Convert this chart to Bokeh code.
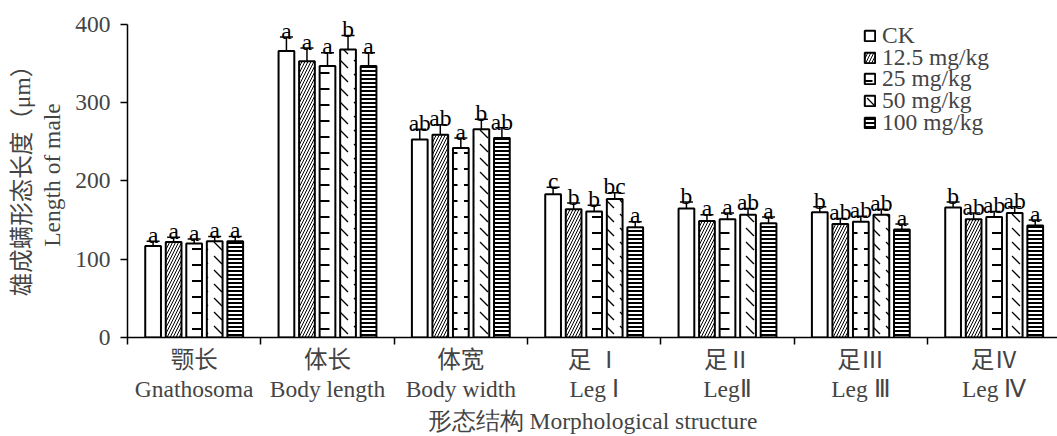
from bokeh.plotting import figure
from bokeh.models import (Range1d, FixedTicker, LinearAxis, Whisker, TeeHead, ColumnDataSource,
                          Legend, LegendItem)
from bokeh.core.properties import value
from bokeh.embed import file_html
from bokeh.resources import INLINE

# ---------------- data ----------------
categories_cn = ["颚长", "体长", "体宽", "足 Ⅰ", "足Ⅱ", "足Ⅲ", "足Ⅳ"]
categories_en = ["Gnathosoma", "Body length", "Body width", "Leg Ⅰ", "LegⅡ", "Leg Ⅲ", "Leg Ⅳ"]
series = ["CK", "12.5 mg/kg", "25 mg/kg", "50 mg/kg", "100 mg/kg"]

ck     = [117, 366, 253, 183, 165, 160, 166]
d12_5  = [122, 353, 259, 164, 149, 145, 151]
d25    = [120, 347, 242, 161, 151, 148, 154]
d50    = [123, 368, 266, 177, 157, 157, 159]
d100   = [123, 347, 255, 141, 146, 138, 143]

ck_err    = [6, 18, 13, 9, 8, 7, 7]
d12_5_err = [6, 17, 13, 8, 8, 7, 8]
d25_err   = [6, 17, 13, 8, 8, 7, 7]
d50_err   = [6, 18, 13, 8, 8, 7, 8]
d100_err  = [6, 17, 13, 7, 8, 7, 7]

ck_sig    = ["a", "a", "ab", "c", "b", "b", "b"]
d12_5_sig = ["a", "a", "ab", "b", "a", "ab", "ab"]
d25_sig   = ["a", "a", "a", "b", "a", "ab", "ab"]
d50_sig   = ["a", "b", "b", "bc", "ab", "ab", "ab"]
d100_sig  = ["a", "a", "ab", "a", "a", "a", "a"]

y_ticks = [0, 100, 200, 300, 400]

values = [ck, d12_5, d25, d50, d100]
errors = [ck_err, d12_5_err, d25_err, d50_err, d100_err]
sigs = [ck_sig, d12_5_sig, d25_sig, d50_sig, d100_sig]

# ---------------- styles ----------------
LAT = "'Liberation Serif'"
MIX = "'Liberation Serif', 'Noto Sans CJK SC'"
FS = "23.5px"
hatches = [dict(hatch_pattern=None),
           dict(hatch_pattern="right_diagonal_line", hatch_scale=6, hatch_weight=1.0),
           dict(hatch_pattern="horizontal_dash", hatch_scale=16, hatch_weight=2),
           dict(hatch_pattern="left_diagonal_dash", hatch_scale=14, hatch_weight=1.3),
           dict(hatch_pattern="horizontal_line", hatch_scale=4, hatch_weight=2)]

pitch = 0.154
bar_w = 0.118

p = figure(width=1057, height=436, output_backend="svg", toolbar_location=None,
           x_range=Range1d(0, 6.975), y_range=Range1d(0, 415.3),
           min_border_left=127, min_border_bottom=98, min_border_top=12, min_border_right=0)
p.outline_line_color = None
p.xgrid.visible = False
p.ygrid.visible = False

items = []
for j in range(5):
    xs = [i + 0.5 + (j - 2) * pitch for i in range(len(categories_en))]
    up = [v + e for v, e in zip(values[j], errors[j])]
    src = ColumnDataSource(dict(x=xs, top=values[j], upper=up,
                                lower=[v - e for v, e in zip(values[j], errors[j])],
                                ly=[u + 8 for u in up], sig=sigs[j]))
    r = p.vbar(x="x", top="top", width=bar_w, bottom=0, source=src,
               fill_color="white", line_color="black", line_width=2,
               hatch_color="black", **hatches[j])
    items.append(LegendItem(label=series[j], renderers=[r]))
    w = Whisker(base="x", upper="upper", lower="lower", source=src, dimension="height",
                line_color="black", line_width=1.5,
                upper_head=TeeHead(size=13, line_width=1.5, line_color="black"),
                lower_head=TeeHead(size=13, line_width=1.5, line_color="black"))
    p.add_layout(w)
    p.text(x="x", y="ly", text="sig", source=src, text_align="center",
           text_baseline="alphabetic",
           text_font=value(LAT), text_font_size=FS, text_color="black")

# legend: one single-item legend per row, so the rows can sit closer than the text height
row_h = 21.7
first_row_bottom = 288
for k, it in enumerate(items):
    lg = Legend(items=[it], location=(736, first_row_bottom - k * row_h), padding=0, margin=0,
                border_line_color=None, background_fill_alpha=0,
                glyph_width=13, glyph_height=13, label_standoff=6, spacing=0,
                label_height=20, label_text_font=LAT, label_text_font_size=FS,
                label_text_baseline="middle")
    p.add_layout(lg)

# y axis
ya = p.yaxis[0]
ya.ticker = FixedTicker(ticks=y_ticks)
ya.bounds = (0, 400)
ya.major_tick_out = 7
ya.major_tick_in = 0
ya.minor_tick_line_color = None
ya.major_label_standoff = 10
ya.major_label_text_font = LAT
ya.major_label_text_font_size = FS
ya.axis_line_width = 1.5
ya.major_tick_line_width = 1.5
ya.axis_label = "Length of male"
ya.axis_label_text_font = LAT
ya.axis_label_text_font_size = FS
ya.axis_label_text_font_style = "normal"
ya.axis_label_standoff = 7

ya2 = LinearAxis(ticker=FixedTicker(ticks=[]), axis_line_color=None,
                 major_tick_line_color=None, minor_tick_line_color=None,
                 axis_label="雄成螨形态长度（μm）", axis_label_text_font=MIX,
                 axis_label_text_font_size=FS, axis_label_text_font_style="normal",
                 axis_label_standoff=2)
p.add_layout(ya2, "left")

# x axis: category names at centres, tick marks at group boundaries
centers = [i + 0.5 for i in range(len(categories_en))]
bounds_ticks = list(range(len(categories_en) + 1))
xa = p.xaxis[0]
xa.ticker = FixedTicker(ticks=centers, minor_ticks=bounds_ticks)
xa.major_tick_out = 0
xa.major_tick_in = 0
xa.major_tick_line_color = None
xa.minor_tick_out = 7
xa.minor_tick_in = 0
xa.minor_tick_line_color = "black"
xa.minor_tick_line_width = 1.5
xa.axis_line_width = 1.5
xa.major_label_standoff = 2
xa.major_label_overrides = {c: t for c, t in zip(centers, categories_cn)}
xa.major_label_text_font = MIX
xa.major_label_text_font_size = FS

xc = LinearAxis(ticker=FixedTicker(ticks=centers), axis_line_color=None,
                major_tick_line_color=None, minor_tick_line_color=None,
                major_tick_out=0, major_label_standoff=0,
                major_label_overrides={c: t for c, t in zip(centers, categories_en)},
                major_label_text_font=LAT, major_label_text_font_size=FS,
                axis_label="形态结构 Morphological structure", axis_label_text_font=LAT,
                axis_label_text_font_size=FS, axis_label_text_font_style="normal",
                axis_label_standoff=3)
p.add_layout(xc, "below")

open("out.html", "w").write(file_html(p, INLINE))
